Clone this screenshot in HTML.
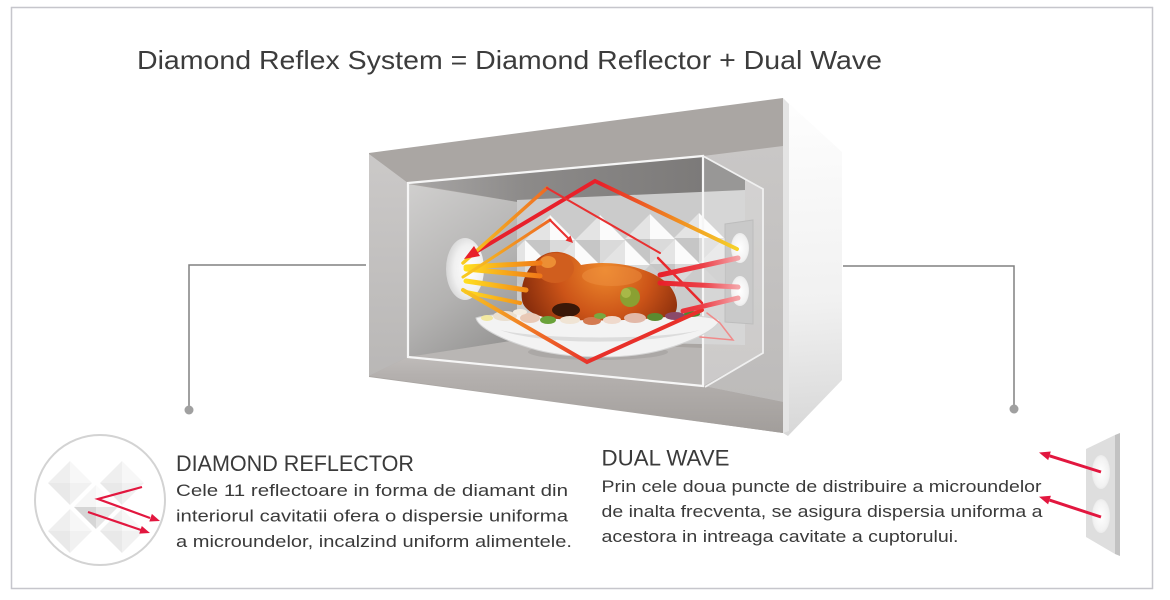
<!DOCTYPE html>
<html><head><meta charset="utf-8">
<style>html,body{margin:0;padding:0;background:#fff}svg{display:block}</style>
</head>
<body>
<svg width="1170" height="600" viewBox="0 0 1170 600" xmlns="http://www.w3.org/2000/svg">
<defs>
<linearGradient id="lstrip" x1="0" y1="153" x2="0" y2="377" gradientUnits="userSpaceOnUse"><stop offset="0" stop-color="#cbc9c8"/><stop offset="1" stop-color="#b9b7b6"/></linearGradient>
<linearGradient id="lw" x1="408" y1="190" x2="518" y2="340" gradientUnits="userSpaceOnUse"><stop offset="0" stop-color="#cfcecd"/><stop offset="0.6" stop-color="#b3b2b1"/><stop offset="1" stop-color="#949392"/></linearGradient>
<linearGradient id="ceil" x1="408" y1="0" x2="703" y2="0" gradientUnits="userSpaceOnUse"><stop offset="0" stop-color="#a9a7a6"/><stop offset="0.4" stop-color="#8c8a89"/><stop offset="1" stop-color="#7c7a79"/></linearGradient>
<linearGradient id="floor" x1="0" y1="345" x2="0" y2="432" gradientUnits="userSpaceOnUse"><stop offset="0" stop-color="#c6c3c1"/><stop offset="0.35" stop-color="#b4b0ae"/><stop offset="1" stop-color="#a29e9b"/></linearGradient>
<linearGradient id="rside" x1="800" y1="110" x2="820" y2="430" gradientUnits="userSpaceOnUse"><stop offset="0" stop-color="#fdfdfd"/><stop offset="0.6" stop-color="#f1f1f1"/><stop offset="1" stop-color="#d8d8d8"/></linearGradient>
<linearGradient id="rreg" x1="0" y1="150" x2="0" y2="400" gradientUnits="userSpaceOnUse"><stop offset="0" stop-color="#c9c7c6"/><stop offset="1" stop-color="#bdbbba"/></linearGradient>
<radialGradient id="emit" cx="0.6" cy="0.5" r="0.65"><stop offset="0" stop-color="#ffffff"/><stop offset="0.6" stop-color="#f0f0f0"/><stop offset="1" stop-color="#cfcfcf"/></radialGradient>
<radialGradient id="emit2" cx="0.5" cy="0.5" r="0.6"><stop offset="0" stop-color="#ffffff"/><stop offset="0.7" stop-color="#f2f2f2"/><stop offset="1" stop-color="#e2e2e2"/></radialGradient>
<radialGradient id="chick" cx="605" cy="270" r="85" gradientUnits="userSpaceOnUse"><stop offset="0" stop-color="#ee8a2c"/><stop offset="0.55" stop-color="#cc5418"/><stop offset="1" stop-color="#8a2e0c"/></radialGradient>
<linearGradient id="gA" x1="737" y1="0" x2="600" y2="0" gradientUnits="userSpaceOnUse"><stop offset="0" stop-color="#f6d22a"/><stop offset="0.45" stop-color="#f08a20"/><stop offset="1" stop-color="#e8202a"/></linearGradient>
<linearGradient id="gB" x1="463" y1="0" x2="547" y2="0" gradientUnits="userSpaceOnUse"><stop offset="0" stop-color="#f8cc20"/><stop offset="1" stop-color="#ee6a22"/></linearGradient>
<linearGradient id="gD" x1="463" y1="0" x2="590" y2="0" gradientUnits="userSpaceOnUse"><stop offset="0" stop-color="#f8c820"/><stop offset="1" stop-color="#e8302a"/></linearGradient>
<linearGradient id="beam" x1="464" y1="0" x2="540" y2="0" gradientUnits="userSpaceOnUse"><stop offset="0" stop-color="#ffe020"/><stop offset="1" stop-color="#f07818"/></linearGradient>
<linearGradient id="rbeam" x1="738" y1="0" x2="660" y2="0" gradientUnits="userSpaceOnUse"><stop offset="0" stop-color="#f4a4a8"/><stop offset="0.45" stop-color="#ec4048"/><stop offset="1" stop-color="#e8202a"/></linearGradient>
<clipPath id="cc"><circle cx="100" cy="500" r="64"/></clipPath>
<clipPath id="bw"><polygon points="517,198 745,190 745,345 517,340"/></clipPath>
</defs>

<!-- frame -->
<rect x="11.5" y="7.5" width="1141" height="581" fill="#fff" stroke="#c6c6cc" stroke-width="1.5"/>

<!-- title -->
<text x="137" y="69" font-family="Liberation Sans, sans-serif" font-size="26" fill="#3c3c3c" textLength="745" lengthAdjust="spacingAndGlyphs">Diamond Reflex System = Diamond Reflector + Dual Wave</text>

<!-- connectors -->
<polyline points="366,265 189,265 189,410" fill="none" stroke="#808080" stroke-width="1.5"/>
<circle cx="189" cy="410" r="4.5" fill="#a0a0a0"/>
<polyline points="843,266 1014,266 1014,409" fill="none" stroke="#808080" stroke-width="1.5"/>
<circle cx="1014" cy="409" r="4.5" fill="#a0a0a0"/>

<!-- ===== microwave ===== -->
<polygon points="369,153 783,98 783,433 369,377" fill="#aaa6a3"/>
<polygon points="369,154 408,183 408,357 369,376" fill="url(#lstrip)"/>
<polygon points="703,156 783,146 783,402 703,386" fill="url(#rreg)"/>
<polygon points="369,376 408,357 703,386 783,402 783,433" fill="url(#floor)"/>
<polygon points="408,183 703,156 745,180 745,192 517,202" fill="url(#ceil)"/>
<polygon points="517,200 745,190 745,345 517,340" fill="#cbcbcb"/>
<g clip-path="url(#bw)">
  <g>
    <polygon points="550,215 550,240 525,240" fill="#e4e4e4"/><polygon points="550,215 575,240 550,240" fill="#fbfbfb"/><polygon points="575,240 550,265 550,240" fill="#dadada"/><polygon points="550,265 525,240 550,240" fill="#c6c6c6"/>
    <polygon points="600,215 600,240 575,240" fill="#e4e4e4"/><polygon points="600,215 625,240 600,240" fill="#fbfbfb"/><polygon points="625,240 600,265 600,240" fill="#dadada"/><polygon points="600,265 575,240 600,240" fill="#c6c6c6"/>
    <polygon points="650,214 650,239 625,239" fill="#e4e4e4"/><polygon points="650,214 675,239 650,239" fill="#fbfbfb"/><polygon points="675,239 650,264 650,239" fill="#dadada"/><polygon points="650,264 625,239 650,239" fill="#c6c6c6"/>
    <polygon points="699,213 699,238 674,238" fill="#e4e4e4"/><polygon points="699,213 724,238 699,238" fill="#fbfbfb"/><polygon points="724,238 699,263 699,238" fill="#dadada"/><polygon points="699,263 674,238 699,238" fill="#c6c6c6"/>
  </g>
  <g>
    <polygon points="525,240 525,265 500,265" fill="#e4e4e4"/><polygon points="525,240 550,265 525,265" fill="#fbfbfb"/><polygon points="550,265 525,290 525,265" fill="#dadada"/><polygon points="525,290 500,265 525,265" fill="#c6c6c6"/>
    <polygon points="575,240 575,265 550,265" fill="#e4e4e4"/><polygon points="575,240 600,265 575,265" fill="#fbfbfb"/><polygon points="600,265 575,290 575,265" fill="#dadada"/><polygon points="575,290 550,265 575,265" fill="#c6c6c6"/>
    <polygon points="625,240 625,265 600,265" fill="#e4e4e4"/><polygon points="625,240 650,265 625,265" fill="#fbfbfb"/><polygon points="650,265 625,290 625,265" fill="#dadada"/><polygon points="625,290 600,265 625,265" fill="#c6c6c6"/>
    <polygon points="675,239 675,264 650,264" fill="#e4e4e4"/><polygon points="675,239 700,264 675,264" fill="#fbfbfb"/><polygon points="700,264 675,289 675,264" fill="#dadada"/><polygon points="675,289 650,264 675,264" fill="#c6c6c6"/>
    <polygon points="724,238 724,263 699,263" fill="#e4e4e4"/><polygon points="724,238 749,263 724,263" fill="#fbfbfb"/><polygon points="749,263 724,288 724,263" fill="#dadada"/><polygon points="724,288 699,263 724,263" fill="#c6c6c6"/>
  </g>
</g>
<polygon points="408,184 517,202 517,340 408,357" fill="url(#lw)"/>
<polygon points="408,357 517,340 703,348 703,386" fill="#b9b6b4"/>
<polygon points="703,156 763,189 763,353 703,386" fill="#ffffff" fill-opacity="0.22"/>
<polygon points="725,224 753,220 753,324 725,322" fill="#c9c9c9" stroke="#bdbdbd" stroke-width="1"/>
<ellipse cx="740" cy="248" rx="9" ry="15" fill="url(#emit2)"/>
<ellipse cx="740" cy="291" rx="9" ry="15" fill="url(#emit2)"/>
<ellipse cx="465" cy="269" rx="19" ry="31" fill="url(#emit)"/>

<polygon points="408,183 703,156 703,386 408,357" fill="none" stroke="#f6f6f6" stroke-width="2.2"/>
<polyline points="703,156 763,189 763,353 705,387" fill="none" stroke="#f0f0f0" stroke-width="1.8"/>

<!-- plate -->
<ellipse cx="598" cy="352" rx="70" ry="8" fill="#9e9a98" opacity="0.5"/>
<path d="M476,318 C478,327 500,339 530,348 C565,359 625,360 662,350 C697,340 716,329 720,320 C700,311 500,309 476,318 Z" fill="#f3f3f3" stroke="#d4d4d4" stroke-width="1"/>
<path d="M500,330 C540,345 650,346 700,330 C660,340 540,340 500,330 Z" fill="#dcdcdc"/>

<!-- chicken -->
<path d="M522,300 C519,280 532,258 548,253 C562,249 575,256 581,265 C612,259 650,267 668,284 C679,296 679,310 673,316 C640,321 580,322 548,318 C532,315 523,308 522,300 Z" fill="url(#chick)"/>
<ellipse cx="555" cy="268" rx="19" ry="15" fill="#d05e1e"/>
<ellipse cx="548" cy="262" rx="8" ry="6" fill="#ec8e34"/>
<ellipse cx="566" cy="310" rx="14" ry="7" fill="#3a1808"/>
<ellipse cx="612" cy="276" rx="30" ry="10" fill="#ee9040" opacity="0.5"/>
<circle cx="630" cy="297" r="10" fill="#8aa032"/>
<circle cx="626" cy="293" r="5" fill="#a8b848"/>
<!-- food -->
<ellipse cx="505" cy="316" rx="12" ry="5" fill="#eadfcf"/>
<ellipse cx="530" cy="318" rx="10" ry="5" fill="#e9c9b6"/>
<ellipse cx="548" cy="320" rx="8" ry="4" fill="#6aa23a"/>
<ellipse cx="570" cy="320" rx="10" ry="4" fill="#f0e4d4"/>
<ellipse cx="592" cy="321" rx="9" ry="4" fill="#d47a50"/>
<ellipse cx="612" cy="320" rx="9" ry="4" fill="#efd9cc"/>
<ellipse cx="635" cy="318" rx="11" ry="5" fill="#e2b8a8"/>
<ellipse cx="655" cy="317" rx="8" ry="4" fill="#5a8a30"/>
<ellipse cx="675" cy="316" rx="10" ry="4" fill="#8a4a6a"/>
<ellipse cx="692" cy="314" rx="8" ry="3" fill="#4a8a30"/>
<ellipse cx="487" cy="318" rx="6" ry="3" fill="#f2e8a0"/>
<ellipse cx="520" cy="312" rx="7" ry="3" fill="#f4ece0"/>
<ellipse cx="600" cy="316" rx="6" ry="3" fill="#78a840"/>

<!-- waves -->
<g fill="none" stroke-linecap="round" stroke-linejoin="miter">
  <line x1="466" y1="267" x2="540" y2="263" stroke="url(#beam)" stroke-width="5"/>
  <line x1="466" y1="269" x2="540" y2="276" stroke="url(#beam)" stroke-width="5"/>
  <line x1="466" y1="281" x2="526" y2="290" stroke="url(#beam)" stroke-width="5"/>
  <line x1="466" y1="292" x2="520" y2="303" stroke="url(#beam)" stroke-width="4"/>
  <polyline points="737,249 595,181 474,253" stroke="url(#gA)" stroke-width="4"/>
  <polyline points="463,263 547,188" stroke="url(#gB)" stroke-width="3.5"/>
  <polyline points="547,188 660,253" stroke="#e83030" stroke-width="2"/>
  <polyline points="463,277 550,220" stroke="url(#gB)" stroke-width="3"/>
  <polyline points="550,220 568,238" stroke="#e83030" stroke-width="2"/>
  <polyline points="658,258 702,303" stroke="#e8282c" stroke-width="2.5"/>
  <polyline points="463,290 587,362 702,310" stroke="url(#gD)" stroke-width="4"/>
  <line x1="738" y1="258" x2="660" y2="275" stroke="url(#rbeam)" stroke-width="5"/>
  <line x1="738" y1="287" x2="660" y2="283" stroke="url(#rbeam)" stroke-width="5"/>
  <line x1="738" y1="298" x2="683" y2="311" stroke="url(#rbeam)" stroke-width="5"/>
  <polyline points="707,313 720,323 733,340 700,337" stroke="#f08a8a" stroke-width="1.5"/>
</g>
<polygon points="464,259 480,256 474,246" fill="#e8202a"/>
<polygon points="573,243 565.5,240.5 570.5,235.5" fill="#e83030"/>

<!-- right side face -->
<polygon points="783,98 842,152 842,380 788,436 783,433" fill="url(#rside)"/>
<polygon points="783,98 789,104 789,431 783,433" fill="#e4e4e4"/>

<!-- ===== Diamond reflector icon ===== -->
<circle cx="100" cy="500" r="65" fill="#fff" stroke="#d3d3d3" stroke-width="2"/>
<g clip-path="url(#cc)">
  <polygon points="70,461 70,483 48,483" fill="#efefef"/><polygon points="70,461 92,483 70,483" fill="#f7f7f7"/><polygon points="92,483 70,505 70,483" fill="#f1f1f1"/><polygon points="70,505 48,483 70,483" fill="#e9e9e9"/>
  <polygon points="122,461 122,483 100,483" fill="#efefef"/><polygon points="122,461 144,483 122,483" fill="#f7f7f7"/><polygon points="144,483 122,505 122,483" fill="#f1f1f1"/><polygon points="122,505 100,483 122,483" fill="#e9e9e9"/>
  <polygon points="70,509 70,531 48,531" fill="#efefef"/><polygon points="70,509 92,531 70,531" fill="#f7f7f7"/><polygon points="92,531 70,553 70,531" fill="#f1f1f1"/><polygon points="70,553 48,531 70,531" fill="#e9e9e9"/>
  <polygon points="122,509 122,531 100,531" fill="#efefef"/><polygon points="122,509 144,531 122,531" fill="#f7f7f7"/><polygon points="144,531 122,553 122,531" fill="#f1f1f1"/><polygon points="122,553 100,531 122,531" fill="#e9e9e9"/>
  <polygon points="96,485 96,507 74,507" fill="#f6f6f6"/><polygon points="96,485 118,507 96,507" fill="#fbfbfb"/><polygon points="118,507 96,529 96,507" fill="#e6e6e6"/><polygon points="96,529 74,507 96,507" fill="#d6d6d6"/>
</g>
<polyline points="142,487 98,499 150,518" fill="none" stroke="#e2173f" stroke-width="2.2"/>
<polygon points="160,521 149.3,521.5 151.9,513.9" fill="#e2173f"/>
<line x1="88" y1="512" x2="141" y2="530" stroke="#e2173f" stroke-width="2.2"/>
<polygon points="150,533 139.2,533.6 141.8,526" fill="#e2173f"/>

<!-- DIAMOND REFLECTOR text -->
<text x="176" y="471" font-family="Liberation Sans, sans-serif" font-size="22.5" fill="#3a3a3a" textLength="238" lengthAdjust="spacingAndGlyphs">DIAMOND REFLECTOR</text>
<g font-family="Liberation Sans, sans-serif" font-size="16.5" fill="#3a3a3a">
  <text x="176" y="496" textLength="392" lengthAdjust="spacingAndGlyphs">Cele 11 reflectoare in forma de diamant din</text>
  <text x="176" y="521.5" textLength="392" lengthAdjust="spacingAndGlyphs">interiorul cavitatii ofera o dispersie uniforma</text>
  <text x="176" y="547" textLength="396" lengthAdjust="spacingAndGlyphs">a microundelor,  incalzind uniform alimentele.</text>
</g>

<!-- DUAL WAVE text -->
<text x="601.5" y="465.5" font-family="Liberation Sans, sans-serif" font-size="22.5" fill="#3a3a3a" textLength="128" lengthAdjust="spacingAndGlyphs">DUAL WAVE</text>
<g font-family="Liberation Sans, sans-serif" font-size="16.5" fill="#3a3a3a">
  <text x="601.5" y="492" textLength="440" lengthAdjust="spacingAndGlyphs">Prin cele doua puncte de distribuire a microundelor</text>
  <text x="601.5" y="517" textLength="441" lengthAdjust="spacingAndGlyphs">de inalta frecventa, se asigura dispersia uniforma a</text>
  <text x="601.5" y="542" textLength="357" lengthAdjust="spacingAndGlyphs">acestora in intreaga cavitate a cuptorului.</text>
</g>

<!-- dual wave icon -->
<polygon points="1086,449 1115,435 1115,554 1086,537" fill="#dedede"/>
<polygon points="1115,435 1120,433 1120,556 1115,554" fill="#c2c2c2"/>
<ellipse cx="1101" cy="472" rx="9" ry="17" fill="url(#emit2)"/>
<ellipse cx="1101" cy="516" rx="9" ry="17" fill="url(#emit2)"/>
<line x1="1101" y1="472" x2="1049.5" y2="455.8" stroke="#e2173f" stroke-width="3"/>
<polygon points="1039,452.5 1050.8,451.5 1048.2,460.1" fill="#e2173f"/>
<line x1="1101" y1="517" x2="1049.5" y2="500.1" stroke="#e2173f" stroke-width="3"/>
<polygon points="1039,496.7 1050.9,495.8 1048.1,504.4" fill="#e2173f"/>
</svg>
</body></html>
